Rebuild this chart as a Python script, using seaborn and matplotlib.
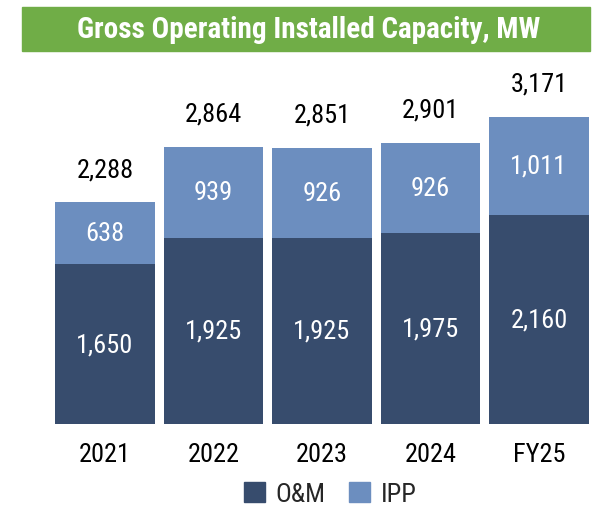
import pandas as pd
import matplotlib.pyplot as plt
import seaborn as sns
from matplotlib.patches import Rectangle

# chart data
years = ['2021', '2022', '2023', '2024', 'FY25']
om = [1650, 1925, 1925, 1975, 2160]
ipp = [638, 939, 926, 926, 1011]
totals = [2288, 2864, 2851, 2901, 3171]

df = pd.DataFrame({'year': years, 'om': om, 'ipp': ipp, 'total': totals})

sns.set_theme(style='white')
plt.rcParams['font.family'] = ['Roboto Condensed', 'DejaVu Sans']
plt.rcParams['font.stretch'] = 'condensed'

dark = '#374C6D'
light = '#6C8EBF'

fig = plt.figure(figsize=(6.11, 5.10), dpi=100)
ax = fig.add_axes([50.75 / 611, 85 / 510, 542.5 / 611, 365 / 510])

# full stack first (IPP colour), then O&M over the bottom
sns.barplot(data=df, x='year', y='total', color=light, saturation=1, width=0.92,
            linewidth=0, ax=ax)
sns.barplot(data=df, x='year', y='om', color=dark, saturation=1, width=0.92,
            linewidth=0, ax=ax)

bars = ax.patches
n = len(years)
ipp_bars = bars[:n]
om_bars = bars[n:]

for b, v in zip(om_bars, om):
    ax.text(b.get_x() + b.get_width() / 2, v / 2, f'{v:,}', ha='center', va='center',
            color='white', fontsize=19)
for b, lo, v in zip(ipp_bars, om, ipp):
    ax.text(b.get_x() + b.get_width() / 2, lo + v / 2, f'{v:,}', ha='center', va='center',
            color='white', fontsize=19)
for b, t in zip(ipp_bars, totals):
    ax.text(b.get_x() + b.get_width() / 2, t + 220, f'{t:,}', ha='center', va='bottom',
            color='black', fontsize=19)

ax.set_ylim(0, 3770)
ax.set_xlim(-0.5, 4.5)
ax.set_xlabel('')
ax.set_ylabel('')
ax.set_yticks([])
ax.tick_params(axis='x', labelsize=19, pad=13, length=0, labelcolor='black')
sns.despine(ax=ax, left=True, bottom=True)

# green title banner
fig.patches.append(Rectangle((22 / 611, 1 - 52 / 510), 568 / 611, 44 / 510,
                             transform=fig.transFigure, color='#70AD47', zorder=0))
fig.text(309 / 611, 1 - 30 / 510, 'Gross Operating Installed Capacity, MW',
         ha='center', va='center', color='white', fontsize=21, fontweight='bold')

# legend
handles = [Rectangle((0, 0), 1, 1, color=dark), Rectangle((0, 0), 1, 1, color=light)]
fig.legend(handles, ['O&M', 'IPP'], loc='center', bbox_to_anchor=(330 / 611, 1 - 495 / 510),
           ncol=2, frameon=False, fontsize=19, handlelength=0.8, handleheight=0.8,
           handletextpad=0.4, columnspacing=0.9, borderaxespad=0)

fig.savefig('out.png', dpi=100)
